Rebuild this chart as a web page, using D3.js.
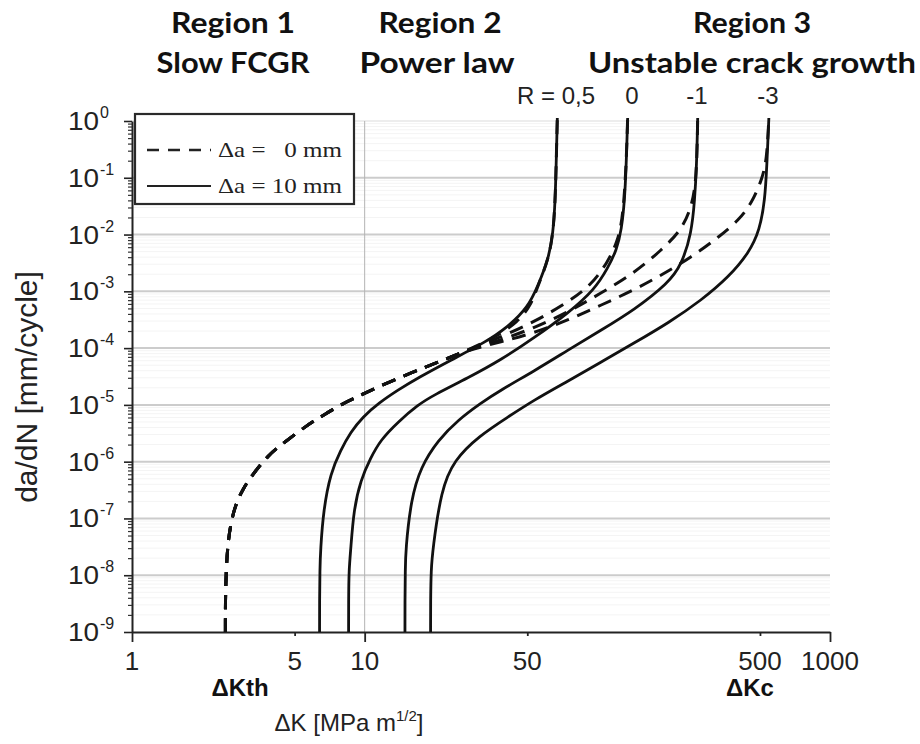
<!DOCTYPE html>
<html>
<head>
<meta charset="utf-8">
<script src="https://d3js.org/d3.v7.min.js"></script>
<style>
  html,body{margin:0;padding:0;background:#fff;}
  svg{display:block;}
  text{white-space:pre;}
</style>
</head>
<body>
<svg id="chart" width="920" height="744"></svg>
<script>
// ---------------- DATA ----------------
const xTickValues = [1, 5, 10, 50, 500, 1000];
const xTickLabels = ["1", "5", "10", "50", "500", "1000"];
const xLongTicks = [1, 10, 1000];
const yTickExponents = [0, -1, -2, -3, -4, -5, -6, -7, -8, -9];
const rLabels = ["R = 0,5", "0", "-1", "-3"];
const regionTitles = ["Region 1", "Region 2", "Region 3"];
const regionSubtitles = ["Slow FCGR", "Power law", "Unstable crack growth"];
const legendLabels = ["\u0394a =   0 mm", "\u0394a = 10 mm"];

// Δa = 10 mm (solid curves), points [ΔK, da/dN]
const solidR05 = [[6.40,1e-9],[6.40,3.66e-9],[6.42,1.24e-8],[6.46,2.78e-8],[6.65,1.41e-7],[7.13,6.32e-7],[7.89,1.61e-6],[8.71,3.33e-6],[9.80,6.12e-6],[11.5,1.08e-5],[13.9,1.83e-5],[16.9,2.98e-5],[23.5,6.18e-5],[32.6,1.23e-4],[41.3,2.36e-4],[50.5,5.30e-4],[55.7,1.29e-3],[61.5,3.56e-3],[64.6,1.06e-2],[65.9,4.06e-2],[66.5,0.155],[67.3,1.13]];
const solidR0 = [[8.53,1e-9],[8.53,3.66e-9],[8.56,1.24e-8],[8.71,2.78e-8],[8.97,1.41e-7],[9.61,4.75e-7],[10.6,1.16e-6],[11.7,2.41e-6],[13.9,5.00e-6],[16.9,9.96e-6],[19.8,1.49e-5],[27.8,2.98e-5],[38.5,6.18e-5],[53.5,1.51e-4],[75.0,4.16e-4],[97.1,1.06e-3],[111,2.58e-3],[121,5.35e-3],[127,1.20e-2],[131,4.06e-2],[133,0.155],[135,1.13]];
const solidRm1 = [[14.9,1e-9],[14.9,3.66e-9],[14.95,1.24e-8],[15.0,2.78e-8],[15.8,2.11e-7],[17.4,8.05e-7],[20.7,2.41e-6],[25.2,5.42e-6],[31.6,1.08e-5],[38.5,1.83e-5],[53.5,3.95e-5],[75.0,9.27e-5],[104,2.08e-4],[144,4.69e-4],[202,1.40e-3],[230,2.91e-3],[254,1.06e-2],[262,4.06e-2],[267,0.155],[270,1.13]];
const solidRm3 = [[19.2,1e-9],[19.2,3.66e-9],[19.3,1.24e-8],[19.6,2.78e-8],[21.3,3.17e-7],[24.2,1.07e-6],[31.0,2.83e-6],[41.3,6.12e-6],[53.5,1.22e-5],[75.0,2.64e-5],[104,5.70e-5],[144,1.23e-4],[202,2.77e-4],[281,7.03e-4],[367,1.79e-3],[448,4.73e-3],[499,1.20e-2],[525,4.06e-2],[535,0.155],[546,1.13]];

// Δa = 0 mm (dashed curves): common lower trunk, then one branch per R
const dashedTrunk = [[2.52,1e-9],[2.52,3.66e-9],[2.54,1.24e-8],[2.58,3.41e-8],[2.65,7.67e-8],[2.78,1.73e-7],[3.01,3.44e-7],[3.29,5.82e-7],[3.85,1.31e-6],[4.48,2.13e-6],[5.68,4.43e-6],[6.46,6.12e-6],[8.11,1.08e-5],[9.33,1.38e-5],[11.1,1.99e-5],[15.8,3.65e-5],[21.3,5.93e-5],[27.8,9.27e-5]];
const dashedR05 = [[36.0,1.51e-4],[45.6,2.88e-4],[51.9,5.74e-4],[55.7,1.29e-3],[61.5,3.56e-3],[64.6,1.06e-2],[65.9,4.06e-2],[66.5,0.155],[67.3,1.13]];
const dashedR0 = [[38.5,1.57e-4],[53.5,2.88e-4],[75.0,6.49e-4],[94.2,1.29e-3],[111,3.29e-3],[123,8.02e-3],[129,2.21e-2],[133,0.155],[135,1.13]];
const dashedRm1 = [[38.5,1.39e-4],[53.5,2.26e-4],[75.0,4.33e-4],[104,9.35e-4],[144,2.10e-3],[189,5.35e-3],[230,1.20e-2],[254,3.05e-2],[267,9.14e-2],[270,1.13]];
const dashedRm3 = [[38.5,1.28e-4],[53.5,1.85e-4],[75.0,3.13e-4],[104,5.74e-4],[144,1.06e-3],[189,1.94e-3],[254,4.03e-3],[333,9.06e-3],[406,1.80e-2],[461,3.60e-2],[509,9.14e-2],[535,0.206],[546,1.13]];

// ---------------- CHART ----------------
const svg = d3.select("#chart");
const x = d3.scaleLog().domain([1, 1000]).range([132, 830]);
const y = d3.scaleLog().domain([1e-9, 1]).range([632, 121]);

const majorVals = yTickExponents.map(e => Math.pow(10, e));
const minorVals = [];
for (let e = -9; e < 0; e++) for (let m = 2; m <= 9; m++) minorVals.push(m * Math.pow(10, e));

// faint minor grid
svg.append("g").selectAll("line").data(minorVals).join("line")
  .attr("x1", x(1)).attr("x2", x(1000))
  .attr("y1", d => y(d)).attr("y2", d => y(d))
  .attr("stroke", "#f4f4f4").attr("stroke-width", 1);
// major grid
svg.append("g").selectAll("line").data(majorVals.filter(v => v > 1e-9)).join("line")
  .attr("x1", x(1)).attr("x2", x(1000))
  .attr("y1", d => y(d)).attr("y2", d => y(d))
  .attr("stroke", d => d === 1 ? "#ededed" : "#cccccc").attr("stroke-width", 2);
// vertical grid line at ΔK = 10
svg.append("line")
  .attr("x1", x(10)).attr("x2", x(10)).attr("y1", y(1)).attr("y2", y(1e-9))
  .attr("stroke", "#b3b3b3").attr("stroke-width", 1);

// Y axis
const gy = svg.append("g").attr("transform", `translate(${x(1)},0)`)
  .call(d3.axisLeft(y).tickValues(majorVals).tickSize(8).tickSizeOuter(0).tickFormat(""));
gy.select(".domain").attr("stroke", "#222").attr("stroke-width", 2);
gy.selectAll(".tick line").attr("stroke", "#222").attr("stroke-width", 1.6);
const gym = svg.append("g").attr("transform", `translate(${x(1)},0)`)
  .call(d3.axisLeft(y).tickValues(minorVals).tickSize(4).tickFormat(""));
gym.select(".domain").remove();
gym.selectAll(".tick line").attr("stroke", "#333").attr("stroke-width", 1.2);

// Y tick labels 10^e
const yLab = svg.append("g").attr("font-family", "Liberation Sans, Arial, sans-serif").attr("fill", "#222");
yLab.selectAll("text.base").data(yTickExponents).join("text").attr("class", "base")
  .attr("x", 99).attr("y", e => y(Math.pow(10, e)) + 9)
  .attr("text-anchor", "end").attr("font-size", 26)
  .attr("textLength", 31).attr("lengthAdjust", "spacingAndGlyphs").text("10");
yLab.selectAll("text.exp").data(yTickExponents).join("text").attr("class", "exp")
  .attr("x", 100).attr("y", e => y(Math.pow(10, e)) - 3)
  .attr("text-anchor", "start").attr("font-size", 16).text(e => e === 0 ? "0" : "-" + Math.abs(e));

// X axis
const gx = svg.append("g").attr("transform", `translate(0,${y(1e-9)})`)
  .call(d3.axisBottom(x).tickValues(xTickValues).tickSize(4).tickSizeOuter(0).tickFormat(""));
gx.select(".domain").attr("stroke", "#222").attr("stroke-width", 2);
gx.selectAll(".tick line").attr("stroke", "#222").attr("stroke-width", 1.8)
  .attr("y2", d => xLongTicks.includes(d) ? 10 : 4);
svg.append("g").selectAll("text").data(xTickValues).join("text")
  .attr("x", d => x(d)).attr("y", 670).attr("text-anchor", "middle")
  .attr("font-family", "Liberation Sans, Arial, sans-serif").attr("font-size", 26).attr("fill", "#222")
  .text((d, i) => xTickLabels[i]);

// Curves (smooth B-spline through the read points; all dashed paths start at the bottom so dashes align)
const line = d3.line().x(d => x(d[0])).y(d => y(d[1])).curve(d3.curveBasis);
const solidSeries = [solidR05, solidR0, solidRm1, solidRm3];
const dashedSeries = [dashedR05, dashedR0, dashedRm1, dashedRm3].map(b => dashedTrunk.concat(b));
svg.append("g").selectAll("path").data(solidSeries).join("path")
  .attr("d", line).attr("fill", "none").attr("stroke", "#111").attr("stroke-width", 2.8);
svg.append("g").selectAll("path").data(dashedSeries).join("path")
  .attr("d", line).attr("fill", "none").attr("stroke", "#111").attr("stroke-width", 3)
  .attr("stroke-dasharray", "14,9");

// Axis titles
svg.append("text").attr("transform", "translate(37,387) rotate(-90)")
  .attr("text-anchor", "middle").attr("font-family", "Liberation Sans, Arial, sans-serif")
  .attr("font-size", 30).attr("fill", "#222").text("da/dN [mm/cycle]");
const xt = svg.append("text").attr("x", 349).attr("y", 731).attr("text-anchor", "middle")
  .attr("font-family", "Liberation Sans, Arial, sans-serif").attr("font-size", 24).attr("fill", "#222");
xt.append("tspan").text("\u0394K [MPa m");
xt.append("tspan").attr("font-size", 15).attr("dy", -10).text("1/2");
xt.append("tspan").attr("dy", 10).text("]");

// Bottom bold annotations
const bold = svg.append("g").attr("font-family", "Liberation Sans, Arial, sans-serif")
  .attr("font-weight", "bold").attr("font-size", 24).attr("fill", "#111");
bold.append("text").attr("x", 240).attr("y", 696).attr("text-anchor", "middle").text("\u0394Kth");
bold.append("text").attr("x", 750).attr("y", 696).attr("text-anchor", "middle").text("\u0394Kc");

// Region headings
const regionX = [233, 440, 752];
const regionW = [124, 123, 118];
const subW = [153, 155, 328];
const hd = svg.append("g").attr("font-family", "Lato, Open Sans, sans-serif")
  .attr("font-weight", "bold").attr("font-size", 29).attr("fill", "#111").attr("text-anchor", "middle");
hd.selectAll("text.t").data(regionTitles).join("text").attr("class", "t")
  .attr("x", (d, i) => regionX[i]).attr("y", 33)
  .attr("textLength", (d, i) => regionW[i]).attr("lengthAdjust", "spacingAndGlyphs").text(d => d);
hd.selectAll("text.s").data(regionSubtitles).join("text").attr("class", "s")
  .attr("x", (d, i) => regionX[i] + (i === 1 ? -3 : 0)).attr("y", 73)
  .attr("textLength", (d, i) => subW[i]).attr("lengthAdjust", "spacingAndGlyphs").text(d => d);

// R labels
const rX = [517, 632, 697, 768];
svg.append("g").attr("font-family", "Liberation Sans, Arial, sans-serif").attr("font-size", 24).attr("fill", "#222")
  .selectAll("text").data(rLabels).join("text")
  .attr("x", (d, i) => rX[i]).attr("y", 104)
  .attr("text-anchor", (d, i) => i === 0 ? "start" : "middle").text(d => d);

// Legend
const lg = svg.append("g");
lg.append("rect").attr("x", 135).attr("y", 114).attr("width", 219).attr("height", 90)
  .attr("fill", "#fff").attr("stroke", "#2a2a2a").attr("stroke-width", 2.2);
lg.append("line").attr("x1", 147).attr("x2", 211).attr("y1", 150).attr("y2", 150)
  .attr("stroke", "#222").attr("stroke-width", 2.5).attr("stroke-dasharray", "12,9");
lg.append("line").attr("x1", 147).attr("x2", 211).attr("y1", 186).attr("y2", 186)
  .attr("stroke", "#222").attr("stroke-width", 2);
lg.selectAll("text").data(legendLabels).join("text")
  .attr("x", 218).attr("y", (d, i) => 157 + i * 36)
  .attr("font-family", "Liberation Serif, Times New Roman, serif").attr("font-size", 21).attr("fill", "#222")
  .attr("textLength", 124).attr("lengthAdjust", "spacingAndGlyphs").text(d => d);
</script>
</body>
</html>
